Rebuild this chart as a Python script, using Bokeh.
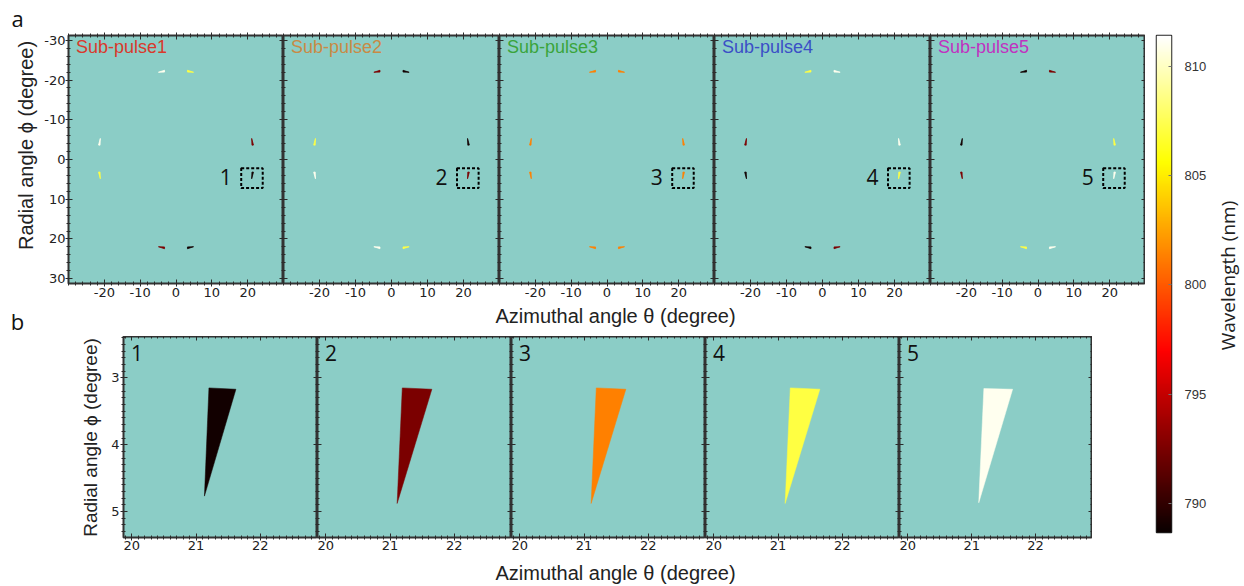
import numpy as np
from math import pi
from bokeh.plotting import figure
from bokeh.models import (Range1d, FixedTicker, LinearAxis, Label,
                          LinearColorMapper, ColumnDataSource)
from bokeh.layouts import row, column
from bokeh.embed import file_html
from bokeh.resources import INLINE

# ---------------- data ----------------
pulse_names = ["Sub-pulse1", "Sub-pulse2", "Sub-pulse3", "Sub-pulse4", "Sub-pulse5"]
pulse_colors = ["#d9392c", "#c98a45", "#3aa43c", "#3b4fc6", "#c032c0"]
zoom_ids = ["1", "2", "3", "4", "5"]

# eight far-field spots of each sub-pulse: triangle vertices (theta, phi) in degrees
spot_xs = [[-3.2, -3.2, -4.9], [3.2, 3.2, 4.9],
           [-21.2, -21.62, -21.12], [21.2, 21.62, 21.12],
           [-21.2, -21.62, -21.12], [21.2, 21.62, 21.12],
           [-3.2, -3.2, -4.9], [3.2, 3.2, 4.9]]
spot_ys = [[-22.0, -22.45, -21.95], [-22.0, -22.45, -21.95],
           [-3.6, -3.63, -5.3], [-3.6, -3.63, -5.3],
           [3.15, 3.18, 4.85], [3.15, 3.18, 4.85],
           [22.0, 22.45, 21.95], [22.0, 22.45, 21.95]]
# wavelength (nm) of each spot, per sub-pulse
spot_wl = [
    [811.0, 807.1, 811.0, 792.5, 807.1, 789.0, 792.5, 789.0],
    [792.5, 789.0, 807.1, 789.0, 811.0, 792.5, 811.0, 807.1],
    [801.3, 801.3, 801.3, 801.3, 801.3, 801.3, 801.3, 801.3],
    [807.1, 811.0, 792.5, 811.0, 789.0, 807.1, 789.0, 792.5],
    [789.0, 792.5, 789.0, 807.1, 792.5, 811.0, 807.1, 811.0],
]
# zoomed spot (panel b)
zoom_xs = [[21.20, 21.62, 21.13], [21.19, 21.65, 21.11], [21.19, 21.65, 21.11],
           [21.19, 21.65, 21.11], [21.19, 21.64, 21.11]]
zoom_ys = [[3.15, 3.17, 4.77], [3.15, 3.17, 4.88], [3.15, 3.17, 4.88],
           [3.15, 3.17, 4.88], [3.16, 3.17, 4.87]]
zoom_wl = [789.0, 792.5, 801.3, 807.1, 811.0]

# zoom box drawn in panel a
box_left, box_right, box_top, box_bottom = 18.2, 24.2, 2.2, 7.2

top_xticks = [-20, -10, 0, 10, 20]
top_yticks = [-30, -20, -10, 0, 10, 20, 30]
bot_xticks = [20, 21, 22]
bot_yticks = [3, 4, 5]
cbar_ticks = [790, 795, 800, 805, 810]
wl_low, wl_high = 788.67, 811.4

top_xminor = list(range(-30, 31, 2))
top_yminor = list(range(-30, 31, 2))
bot_xminor = [round(19.9 + 0.1 * k, 2) for k in range(30)]
bot_yminor = [round(2.4 + 0.1 * k, 2) for k in range(30)]

XLABEL = "Azimuthal angle θ (degree)"
YLABEL = "Radial angle ϕ (degree)"
CLABEL = "Wavelength (nm)"

TEAL = "#8bcdc6"
TOP_FW = [215, 216, 215, 216, 215]
BOT_FW = [194, 194, 194, 194, 193]


# "hot" colour map
def hot(t):
    r = min(1.0, 0.0416 + (1 - 0.0416) * t / 0.365079)
    g = min(1.0, max(0.0, (t - 0.365079) / (0.746032 - 0.365079)))
    b = min(1.0, max(0.0, (t - 0.746032) / (1 - 0.746032)))
    return "#%02x%02x%02x" % (round(r * 255), round(g * 255), round(b * 255))


palette = [hot(k / 255) for k in range(256)]
mapper = LinearColorMapper(palette=palette, low=wl_low, high=wl_high)


def make_axis(ticks, minor, labels, tick_out, standoff=0):
    ax = LinearAxis(ticker=FixedTicker(ticks=ticks, minor_ticks=minor))
    ax.axis_line_color = None
    ax.major_tick_line_color = "#2b2b2b"
    ax.minor_tick_line_color = "#2b2b2b"
    ax.major_tick_in = 4
    ax.major_tick_out = tick_out
    ax.minor_tick_in = 2
    ax.minor_tick_out = min(tick_out, 2)
    if labels:
        ax.major_label_overrides = {t: str(t) for t in ticks}
        ax.major_label_text_font = "DejaVu Sans"
        ax.major_label_text_font_size = "13px"
        ax.major_label_text_color = "#222222"
        ax.major_label_standoff = standoff
    else:
        ax.major_label_text_font_size = "0px"
        ax.major_label_text_color = None
        ax.major_label_standoff = 0
    return ax


def blank(w, h):
    """An empty figure whose frame is a w x h pixel box, used for margin texts."""
    p = figure(title=None, x_range=Range1d(0, w), y_range=Range1d(h, 0),
               frame_width=w, frame_height=h, frame_align=False,
               min_border_left=0, min_border_right=0, min_border_top=0, min_border_bottom=0,
               x_axis_location=None, y_axis_location=None,
               toolbar_location=None, output_backend="svg",
               outline_line_color=None, background_fill_color="white",
               border_fill_color="white")
    p.grid.grid_line_color = None
    return p


def txt(p, x, y, text, size, font="Liberation Sans", angle=0.0,
        align="center", baseline="middle", color="#222222"):
    p.add_layout(Label(x=x, y=y, text=text, angle=angle, text_font=font,
                       text_font_size=size, text_align=align,
                       text_baseline=baseline, text_color=color))


# ---------------- panel a ----------------
marginT = blank(38, 303)
txt(marginT, 17, 17, "a", "22px", font="Open Sans", color="#111111")
txt(marginT, 25, 145, YLABEL, "20px", angle=pi / 2)

tops = [marginT]
for i in range(5):
    p = figure(title=None, x_range=Range1d(-30, 30), y_range=Range1d(31.2, -31.2),
               frame_width=TOP_FW[i], frame_height=248, frame_align=False,
               min_border_left=30 if i == 0 else 0, min_border_right=0,
               min_border_top=35, min_border_bottom=20,
               x_axis_location=None, y_axis_location=None,
               toolbar_location=None, output_backend="svg",
               background_fill_color=TEAL, border_fill_color="white",
               outline_line_color="#333333", outline_line_width=2)
    p.grid.grid_line_color = None
    p.add_layout(make_axis(top_xticks, top_xminor, True, 3, 1), "below")
    p.add_layout(make_axis(top_xticks, top_xminor, False, 3), "above")
    p.add_layout(make_axis(top_yticks, top_yminor, i == 0, 3 if i == 0 else 0, 0), "left")
    p.add_layout(make_axis(top_yticks, top_yminor, False, 0), "right")

    src = ColumnDataSource(dict(xs=spot_xs, ys=spot_ys, wl=spot_wl[i]))
    p.patches("xs", "ys", source=src,
              fill_color={"field": "wl", "transform": mapper},
              line_color={"field": "wl", "transform": mapper}, line_width=0.8)
    p.quad(left=[box_left], right=[box_right], top=[box_top], bottom=[box_bottom],
           fill_color=None, line_color="black", line_width=2, line_dash="3 2")
    txt(p, 13.9, 4.5, zoom_ids[i], "21px", font="Open Sans", color="#111111")
    txt(p, -27.9, -28.2, pulse_names[i], "18px", align="left", color=pulse_colors[i])
    tops.append(p)

mid_strip = blank(1145, 33)
txt(mid_strip, 17, 17.5, "b", "22px", font="Open Sans", color="#111111")
txt(mid_strip, 615, 12.5, XLABEL, "20px")

# ---------------- panel b ----------------
marginB = blank(103, 221)
txt(marginB, 90, 101, YLABEL, "19px", angle=pi / 2)

bots = [marginB]
for i in range(5):
    p = figure(title=None, x_range=Range1d(19.87, 22.89), y_range=Range1d(5.39, 2.38),
               frame_width=BOT_FW[i], frame_height=201, frame_align=False,
               min_border_left=20 if i == 0 else 0, min_border_right=0,
               min_border_top=0, min_border_bottom=20,
               x_axis_location=None, y_axis_location=None,
               toolbar_location=None, output_backend="svg",
               background_fill_color=TEAL, border_fill_color="white",
               outline_line_color="#333333", outline_line_width=2)
    p.grid.grid_line_color = None
    p.add_layout(make_axis(bot_xticks, bot_xminor, True, 3, 0), "below")
    p.add_layout(make_axis(bot_xticks, bot_xminor, False, 0), "above")
    p.add_layout(make_axis(bot_yticks, bot_yminor, i == 0, 3 if i == 0 else 0, 1), "left")
    p.add_layout(make_axis(bot_yticks, bot_yminor, False, 0), "right")

    src = ColumnDataSource(dict(xs=[zoom_xs[i]], ys=[zoom_ys[i]], wl=[zoom_wl[i]]))
    p.patches("xs", "ys", source=src,
              fill_color={"field": "wl", "transform": mapper},
              line_color={"field": "wl", "transform": mapper}, line_width=0.5)
    txt(p, 20.08, 2.62, zoom_ids[i], "21px", font="Open Sans", color="#111111")
    bots.append(p)

bot_strip = blank(1145, 28)
txt(bot_strip, 615, 15, XLABEL, "20px")

# ---------------- colour bar ----------------
cb = figure(title=None, x_range=Range1d(0, 1), y_range=Range1d(wl_low, wl_high),
            frame_width=15, frame_height=497, frame_align=False,
            min_border_left=11, min_border_right=40, min_border_top=35, min_border_bottom=53,
            x_axis_location=None, y_axis_location=None,
            toolbar_location=None, output_backend="svg",
            border_fill_color="white", outline_line_color="#222222", outline_line_width=1.5)
cb.grid.grid_line_color = None
grad = np.linspace(wl_low, wl_high, 256)[:, None]
cb.image(image=[grad], x=0, y=wl_low, dw=1, dh=wl_high - wl_low, color_mapper=mapper)
cax = LinearAxis(ticker=FixedTicker(ticks=cbar_ticks, minor_ticks=[]))
cax.axis_line_color = None
cax.major_tick_in = 3
cax.major_tick_out = 0
cax.major_tick_line_color = "#777777"
cax.minor_tick_line_color = None
cax.major_label_text_font = "Liberation Sans"
cax.major_label_text_font_size = "13px"
cax.major_label_text_color = "#333333"
cax.major_label_standoff = 13
cb.add_layout(cax, "right")

wl_fig = blank(32, 585)
txt(wl_fig, 16, 275, CLABEL, "19px", font="Open Sans", angle=pi / 2)

layout = row(column(row(*tops), mid_strip, row(*bots), bot_strip), cb, wl_fig)
open("out.html", "w").write(file_html(layout, INLINE))
